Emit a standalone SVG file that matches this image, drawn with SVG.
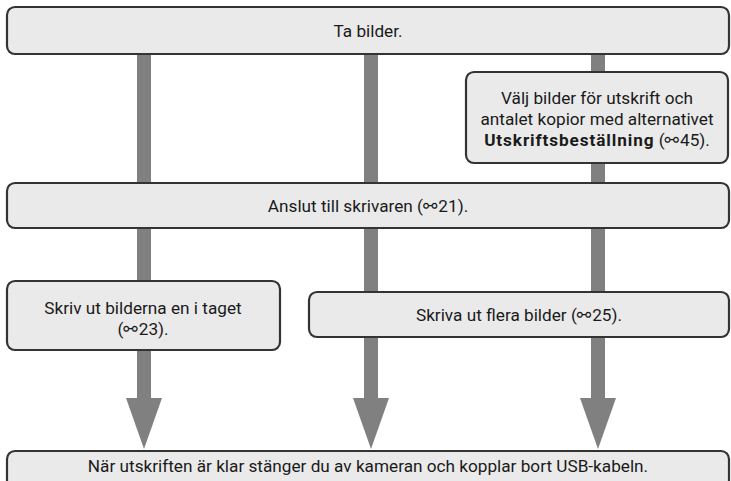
<svg xmlns="http://www.w3.org/2000/svg" width="731" height="481" viewBox="0 0 731 481">
<defs>
<style>
.box{fill:#eaeaea;stroke:#333333;stroke-width:2.2}
.shaft{fill:#808080}
.t{font-family:Roboto,"Noto Sans","Liberation Sans",sans-serif;font-size:17.2px;fill:#1a1a1a;text-anchor:middle}
.b{font-weight:bold;letter-spacing:0.9px}
.ic{font-family:"DejaVu Sans",sans-serif;font-weight:bold;letter-spacing:1px}
</style>
</defs>
<rect width="731" height="481" fill="#ffffff"/>
<g id="connectors">
<rect class="shaft" x="137" y="54" width="14" height="346"/>
<rect class="shaft" x="364" y="54" width="14" height="346"/>
<rect class="shaft" x="591" y="54" width="14" height="346"/>
<polygon class="shaft" points="126,398 162,398 144,449"/>
<polygon class="shaft" points="353,398 389,398 371,449"/>
<polygon class="shaft" points="580,398 616,398 598,449"/>
</g>
<g id="n1">
<rect class="box" x="7" y="7" width="722" height="47" rx="8"/>
<text class="t" x="368" y="37">Ta bilder.</text>
</g>
<g id="n2">
<rect class="box" x="466" y="72" width="262" height="91" rx="8"/>
<text class="t" x="597" y="104">Välj bilder för utskrift och</text>
<text class="t" x="597" y="125">antalet kopior med alternativet</text>
<text class="t" x="597" y="146"><tspan class="b">Utskriftsbeställning</tspan> (<tspan class="ic">⚯</tspan>45).</text>
</g>
<g id="n3">
<rect class="box" x="7" y="183" width="722" height="45" rx="8"/>
<text class="t" x="368" y="211.5">Anslut till skrivaren (<tspan class="ic">⚯</tspan>21).</text>
</g>
<g id="n4">
<rect class="box" x="7" y="281" width="273" height="69" rx="8"/>
<text class="t" x="143" y="314">Skriv ut bilderna en i taget</text>
<text class="t" x="143" y="335">(<tspan class="ic">⚯</tspan>23).</text>
</g>
<g id="n5">
<rect class="box" x="309" y="292" width="420" height="45" rx="8"/>
<text class="t" x="519" y="320.5">Skriva ut flera bilder (<tspan class="ic">⚯</tspan>25).</text>
</g>
<g id="n6">
<rect class="box" x="7" y="451" width="722" height="40" rx="8"/>
<text class="t" x="368" y="472">När utskriften är klar stänger du av kameran och kopplar bort USB-kabeln.</text>
</g>
</svg>
